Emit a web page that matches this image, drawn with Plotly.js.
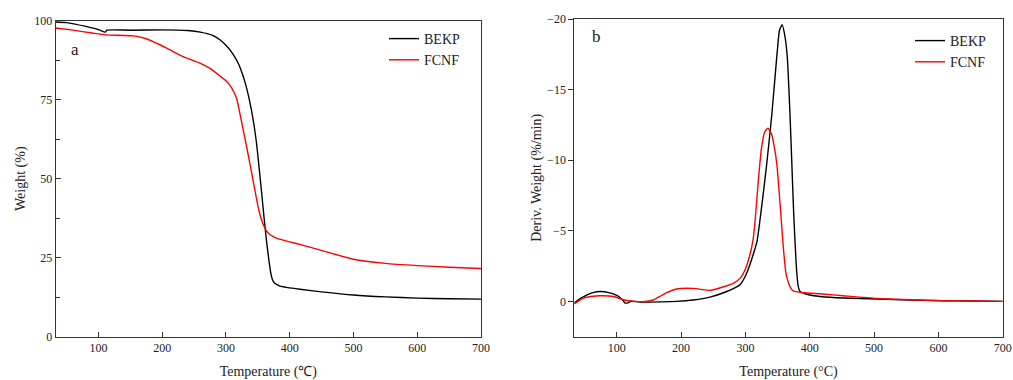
<!DOCTYPE html>
<html>
<head>
<meta charset="utf-8">
<script src="https://cdn.plot.ly/plotly-3.0.1.min.js"></script>
<style>html,body{margin:0;padding:0;background:#fff;}#chart{width:1013px;height:380px;}</style>
</head>
<body>
<div id="chart"></div>
<script>
// TGA (panel a)
const tgaBekpT = [33, 50, 80, 100, 111, 113, 150, 200, 240, 260, 280, 291, 300, 308, 314, 320, 325, 330, 335, 340, 344, 348, 352, 356, 360, 364, 367, 370, 373, 376, 380, 385, 395, 416, 450, 500, 550, 600, 650, 700];
const tgaBekpW = [99.6, 99.4, 98.2, 97.2, 96.4, 97.0, 97.0, 97.1, 96.9, 96.4, 95.3, 93.9, 92.2, 90.3, 88.5, 86.2, 83.6, 80.5, 76.5, 71.7, 67.0, 61.2, 53.5, 45.5, 37.2, 29.6, 24.8, 20.5, 18.0, 17.0, 16.5, 16.0, 15.6, 15.0, 14.2, 13.2, 12.6, 12.2, 12.0, 11.9];
const tgaFcnfT = [33, 60, 90, 111, 155, 176, 207, 233, 260, 275, 290, 300, 306, 312, 317, 321, 325, 330, 335, 340, 345, 350, 355, 360, 364, 370, 380, 400, 420, 448, 500, 550, 600, 650, 700];
const tgaFcnfW = [97.7, 97.0, 96.1, 95.5, 95.2, 94.2, 91.3, 88.6, 86.5, 84.9, 82.6, 81.0, 79.6, 77.6, 75.2, 71.5, 67.5, 62.5, 57.5, 52.2, 46.8, 41.5, 37.5, 34.8, 33.3, 32.2, 31.1, 30.0, 29.0, 27.4, 24.5, 23.2, 22.5, 22.0, 21.6];
// DTG (panel b)
const dtgBekpT = [34, 45, 53, 63, 74, 89, 100, 105, 110, 113, 117, 122, 141, 193, 219, 245, 271, 285, 292, 300, 307, 312, 318, 325, 333, 341, 349, 353, 357, 361, 365, 369, 372, 375, 379, 382, 385, 400, 416, 452, 504, 556, 608, 650, 700];
const dtgBekpV = [0.1, -0.25, -0.45, -0.62, -0.7, -0.6, -0.42, -0.28, -0.05, 0.12, 0.1, 0.0, 0.05, 0.0, -0.1, -0.3, -0.7, -1.0, -1.2, -1.8, -2.6, -3.3, -4.24, -6.6, -9.67, -13.2, -17.45, -19.2, -19.6, -18.9, -17.4, -13.6, -10.0, -6.3, -2.6, -1.1, -0.7, -0.45, -0.35, -0.24, -0.17, -0.1, -0.05, -0.03, 0.0];
const dtgFcnfT = [34, 48, 60, 74, 95, 110, 125, 141, 157, 167, 177, 193, 219, 245, 255, 271, 282, 292, 300, 307, 312, 315, 320, 325, 330, 335, 341, 345, 349, 354, 359, 363, 367, 371, 375, 385, 396, 420, 452, 504, 556, 608, 650, 700];
const dtgFcnfV = [0.18, -0.24, -0.35, -0.4, -0.35, -0.12, -0.02, 0.02, -0.1, -0.35, -0.6, -0.88, -0.92, -0.78, -0.88, -1.11, -1.3, -1.65, -2.3, -3.3, -4.4, -5.66, -8.5, -10.85, -12.0, -12.26, -11.8, -10.9, -9.67, -6.84, -3.8, -2.0, -1.3, -0.9, -0.72, -0.64, -0.6, -0.52, -0.4, -0.21, -0.12, -0.05, -0.03, 0.0];

const seriesNames = ['BEKP', 'FCNF'];
const seriesColors = ['#000000', '#ff0000'];

const FONT = 'Liberation Serif, Times New Roman, serif';
const lineStyle = (c) => ({color: c, width: 1.4, shape: 'spline', smoothing: 0.5});

const traces = [
  {x: tgaBekpT, y: tgaBekpW, name: seriesNames[0], type: 'scatter', mode: 'lines', line: lineStyle(seriesColors[0]), xaxis: 'x', yaxis: 'y', legend: 'legend'},
  {x: tgaFcnfT, y: tgaFcnfW, name: seriesNames[1], type: 'scatter', mode: 'lines', line: lineStyle(seriesColors[1]), xaxis: 'x', yaxis: 'y', legend: 'legend'},
  {x: dtgBekpT, y: dtgBekpV, name: seriesNames[0], type: 'scatter', mode: 'lines', line: lineStyle(seriesColors[0]), xaxis: 'x2', yaxis: 'y2', legend: 'legend2'},
  {x: dtgFcnfT, y: dtgFcnfV, name: seriesNames[1], type: 'scatter', mode: 'lines', line: lineStyle(seriesColors[1]), xaxis: 'x2', yaxis: 'y2', legend: 'legend2'}
];

const axisCommon = {
  showline: true, mirror: true, linecolor: '#333', linewidth: 1,
  showgrid: false, zeroline: false,
  tickfont: {family: FONT, size: 12, color: '#222'},
  tickcolor: '#333', ticklen: 5, tickwidth: 1
};

const layout = {
  width: 1013, height: 380,
  margin: {l: 0, r: 0, t: 0, b: 0},
  paper_bgcolor: '#fff', plot_bgcolor: '#fff',
  font: {family: FONT, color: '#222'},
  showlegend: true,
  xaxis: Object.assign({}, axisCommon, {
    domain: [55.7/1013, 481/1013], range: [33, 700], anchor: 'y',
    tickvals: [100, 200, 300, 400, 500, 600, 700], ticks: 'inside',
    title: {text: 'Temperature (℃)', font: {family: FONT, size: 14, color: '#222'}, standoff: 14}
  }),
  yaxis: Object.assign({}, axisCommon, {
    domain: [(380-336.7)/380, (380-20.7)/380], range: [0, 100], anchor: 'x',
    tickvals: [0, 25, 50, 75, 100], ticks: 'inside',
    minor: {tickvals: [12.5, 37.5, 62.5, 87.5], ticks: 'inside', ticklen: 4, tickcolor: '#333'},
    title: {text: 'Weight (%)', font: {family: FONT, size: 14, color: '#222'}, standoff: 5}
  }),
  xaxis2: Object.assign({}, axisCommon, {
    domain: [574.3/1013, 1002.7/1013], range: [34, 700], anchor: 'y2',
    tickvals: [100, 200, 300, 400, 500, 600, 700], ticks: 'inside',
    title: {text: 'Temperature (°C)', font: {family: FONT, size: 14, color: '#222'}, standoff: 14}
  }),
  yaxis2: Object.assign({}, axisCommon, {
    domain: [(380-336.7)/380, (380-19)/380], range: [2.5, -20], anchor: 'x2',
    tickvals: [0, -5, -10, -15, -20], ticks: 'outside',
    title: {text: 'Deriv. Weight (%/min)', font: {family: FONT, size: 14, color: '#222'}, standoff: 2}
  }),
  legend: {x: 384/1013, y: (380-23)/380, xanchor: 'left', yanchor: 'top', bgcolor: 'rgba(0,0,0,0)', font: {family: FONT, size: 14, color: '#222'}, tracegroupgap: 0},
  legend2: {x: 910/1013, y: (380-25)/380, xanchor: 'left', yanchor: 'top', bgcolor: 'rgba(0,0,0,0)', font: {family: FONT, size: 14, color: '#222'}, tracegroupgap: 0},
  annotations: [
    {text: 'a', xref: 'paper', yref: 'paper', x: 75/1013, y: (380-50)/380, xanchor: 'center', yanchor: 'middle', showarrow: false, font: {family: FONT, size: 17, color: '#222'}},
    {text: 'b', xref: 'paper', yref: 'paper', x: 596/1013, y: (380-37)/380, xanchor: 'center', yanchor: 'middle', showarrow: false, font: {family: FONT, size: 17, color: '#222'}}
  ]
};

Plotly.newPlot('chart', traces, layout, {displayModeBar: false, staticPlot: true});
</script>
</body>
</html>
